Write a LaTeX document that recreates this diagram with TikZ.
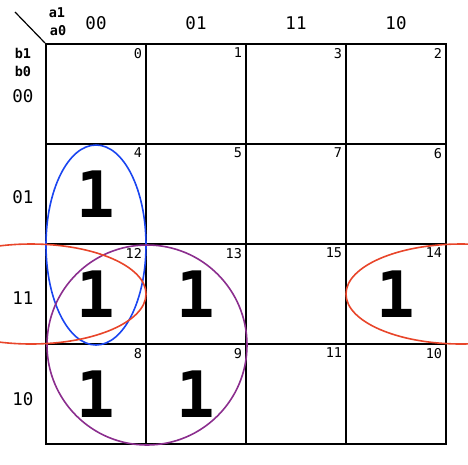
\documentclass[tikz,border=0pt]{standalone}
\usepackage{fontspec}
\usepackage{xcolor}
\newfontfamily\kmono{DejaVu Sans Mono}
\definecolor{kblue}{HTML}{1A45F0}
\definecolor{kred}{HTML}{E8452A}
\definecolor{kpurple}{HTML}{8B2E8E}

\begin{document}
\begin{tikzpicture}[x=1pt, y=-1pt, line width=2pt,
    cell/.style = {draw, minimum size=100pt, inner sep=0pt},
    num/.style = {anchor=north east, inner sep=0pt, font=\kmono\fontsize{13.5}{13.5}\selectfont},
    one/.style = {inner sep=0pt, font=\kmono\bfseries\fontsize{64}{64}\selectfont},
    head/.style = {inner sep=0pt, font=\kmono\fontsize{17.5}{17.5}\selectfont},
    var/.style = {inner sep=0pt, font=\kmono\bfseries\fontsize{13.5}{13.5}\selectfont},
    loop/.style = {line width=1.6pt}]
  \useasboundingbox (0,0) rectangle (468,464);
  \clip (0,0) rectangle (468,464);

  % cells of the map, numbered by gray code
  \foreach \r/\rv in {0/0,1/1,2/3,3/2} {
    \foreach \c/\cv in {0/0,1/1,2/3,3/2} {
      \pgfmathtruncatemacro{\idx}{4*\rv+\cv}
      \node[cell] (c\r\c) at ({96+100*\c},{94+100*\r}) {};
      \node[num] (n\r\c) at ([xshift=-4pt,yshift=-4pt]c\r\c.north east) {\idx};
    }
  }

  % headings
  \draw[line width=1.2pt] (15,12) -- (c00.north west);
  \node[var] (a1) at (57,13) {a1};
  \node[var] (a0) at (58,31) {a0};
  \node[var] (b1) at (23,53) {b1};
  \node[var] (b0) at (23,71) {b0};
  \foreach \c/\t in {0/00,1/01,2/11,3/10}
    \node[head] (h\c) at ({96+100*\c},23) {\t};
  \foreach \r/\t in {0/00,1/01,2/11,3/10}
    \node[head] (v\r) at (23,{96+100*\r+\r}) {\t};

  % ones
  \foreach \p in {10,20,21,23,30,31}
    \node[one] (o\p) at (c\p) {1};

  % groups
  \draw[loop, kblue] (c10.south) ellipse (50 and 100);
  \draw[loop, kpurple] (c20.south east) circle (100);
  \draw[loop, kred] (31,294) ellipse (115 and 50);
  \draw[loop, kred] (461,294) ellipse (115 and 50);
\end{tikzpicture}
\end{document}
